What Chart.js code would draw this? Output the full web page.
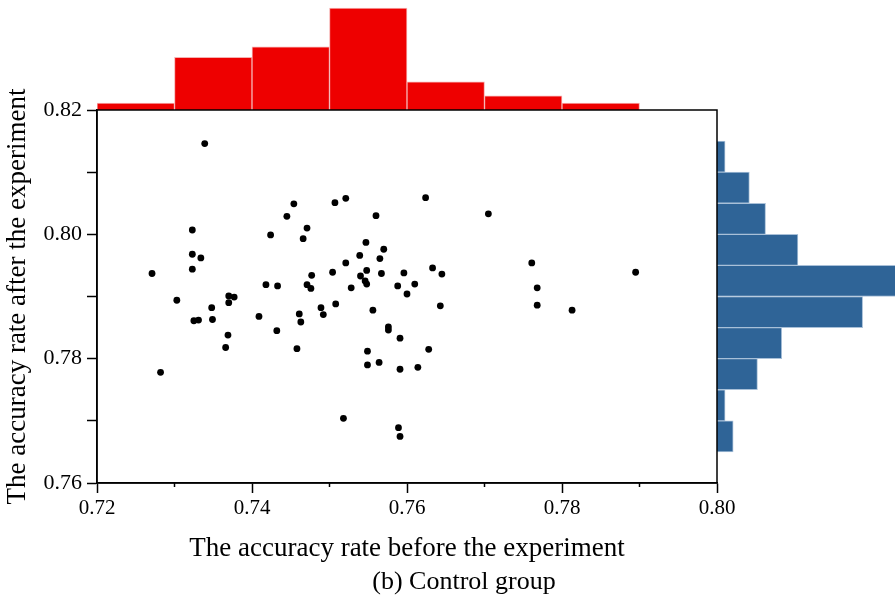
<!DOCTYPE html>
<html lang="en">
<head>
<meta charset="UTF-8">
<title>Control group</title>
<script src="https://cdn.jsdelivr.net/npm/chart.js@4.4.0/dist/chart.umd.min.js"></script>
<style>
  body { margin: 0; background: #fff; }
  #wrap { position: relative; width: 895px; height: 610px; overflow: hidden; }
  #wrap canvas { position: absolute; }
  #caption {
    position: absolute; left: 464px; top: 568px; transform: translateX(-50%);
    font: 26px/1 'Liberation Serif', 'Times New Roman', serif; color: #000; white-space: nowrap;
  }
</style>
</head>
<body>
<div id="wrap">
  <canvas id="topHist" width="895" height="110" style="left:0;top:0"></canvas>
  <canvas id="sideHist" width="178" height="373" style="left:717px;top:110px"></canvas>
  <canvas id="scatter" width="895" height="610" style="left:0;top:0"></canvas>
  <div id="caption">(b) Control group</div>
</div>
<script>
// accuracy rate of each student, before and after (control group)
const before = [0.7339,0.7271,0.7323,0.7323,0.7334,0.7323,0.7303,0.7370,0.7377,0.7424,
  0.7445,0.7454,0.7471,0.7466,0.7418,0.7433,0.7471,0.7477,0.7476,0.7507,
  0.7521,0.7560,0.7504,0.7521,0.7528,0.7539,0.7547,0.7540,0.7548,0.7546,
  0.7548,0.7565,0.7570,0.7567,0.7588,0.7596,0.7600,0.7624,0.7705,0.7610,
  0.7633,0.7645,0.7761,0.7768,0.7895,0.7282,0.7325,0.7331,0.7348,0.7349,
  0.7370,0.7369,0.7366,0.7409,0.7432,0.7458,0.7461,0.7463,0.7489,0.7492,
  0.7508,0.7518,0.7556,0.7576,0.7576,0.7549,0.7549,0.7564,0.7591,0.7591,
  0.7589,0.7591,0.7643,0.7768,0.7813,0.7628,0.7614];
const after = [0.8146,0.7937,0.8007,0.7968,0.7962,0.7944,0.7894,0.7901,0.7899,0.7999,
  0.8029,0.8049,0.8010,0.7993,0.7919,0.7917,0.7919,0.7934,0.7913,0.8051,
  0.8058,0.8030,0.7939,0.7954,0.7914,0.7966,0.7987,0.7933,0.7942,0.7925,
  0.7920,0.7961,0.7976,0.7937,0.7917,0.7938,0.7904,0.8059,0.8033,0.7920,
  0.7946,0.7936,0.7954,0.7914,0.7939,0.7778,0.7861,0.7862,0.7882,0.7863,
  0.7890,0.7838,0.7818,0.7868,0.7845,0.7816,0.7872,0.7859,0.7882,0.7871,
  0.7888,0.7704,0.7878,0.7851,0.7846,0.7812,0.7790,0.7794,0.7833,0.7783,
  0.7689,0.7675,0.7885,0.7886,0.7878,0.7815,0.7786];

// top histogram: bins of "before", 0.72 .. 0.80 step 0.01
const beforeBins = ['0.72','0.73','0.74','0.75','0.76','0.77','0.78','0.79'];
const beforeCounts = [2, 15, 18, 29, 8, 4, 2, 0];

// side histogram: bins of "after", top (0.815-0.82) to bottom (0.76-0.765)
const afterBins = ['0.815','0.810','0.805','0.800','0.795','0.790','0.785','0.780','0.775','0.770','0.765','0.760'];
const afterCounts = [0, 1, 4, 6, 10, 23, 18, 8, 5, 1, 2, 0];

const serif = "'Liberation Serif', 'Times New Roman', serif";
const isEven = v => Math.round(v * 100) % 2 === 0;

// box round the plot + short minor ticks on x
const frame = {
  id: 'frame',
  afterDraw(chart) {
    const {ctx, chartArea: a, scales: {x}} = chart;
    ctx.save();
    ctx.strokeStyle = '#000';
    ctx.lineWidth = 1.5;
    ctx.strokeRect(a.left, a.top, a.right - a.left, a.bottom - a.top);
    x.ticks.forEach(t => {
      if (isEven(t.value)) return;
      const px = x.getPixelForValue(t.value);
      ctx.beginPath();
      ctx.moveTo(px, a.bottom);
      ctx.lineTo(px, a.bottom + 4);
      ctx.stroke();
    });
    ctx.restore();
  }
};

new Chart(document.getElementById('topHist'), {
  type: 'bar',
  data: {
    labels: beforeBins,
    datasets: [{
      data: beforeCounts,
      backgroundColor: '#ee0000',
      borderColor: '#f6b0b0',
      borderWidth: 1,
      categoryPercentage: 1,
      barPercentage: 1
    }]
  },
  options: {
    responsive: false, animation: false, devicePixelRatio: 1,
    layout: {padding: {left: 97, right: 178, top: 0, bottom: 0}},
    plugins: {legend: {display: false}, tooltip: {enabled: false}},
    scales: {
      x: {display: false},
      y: {display: false, min: 0, max: 31.3}
    }
  }
});

new Chart(document.getElementById('sideHist'), {
  type: 'bar',
  data: {
    labels: afterBins,
    datasets: [{
      data: afterCounts,
      backgroundColor: '#2f6497',
      borderColor: '#a9c0d8',
      borderWidth: 1,
      categoryPercentage: 1,
      barPercentage: 1
    }]
  },
  options: {
    indexAxis: 'y',
    responsive: false, animation: false, devicePixelRatio: 1,
    plugins: {legend: {display: false}, tooltip: {enabled: false}},
    scales: {
      x: {display: false, min: 0, max: 22},
      y: {display: false}
    }
  }
});

new Chart(document.getElementById('scatter'), {
  type: 'scatter',
  data: {
    datasets: [{
      data: before.map((b, i) => ({x: b, y: after[i]})),
      backgroundColor: '#000',
      borderColor: '#000',
      borderWidth: 0,
      pointRadius: 3.4
    }]
  },
  options: {
    responsive: false, animation: false, devicePixelRatio: 1,
    layout: {padding: {left: 0, top: 110, right: 178, bottom: 0}},
    plugins: {legend: {display: false}, tooltip: {enabled: false}},
    scales: {
      x: {
        type: 'linear', min: 0.72, max: 0.80,
        afterFit: s => { s.height = 127; },
        ticks: {
          stepSize: 0.01, autoSkip: false, maxRotation: 0, padding: 3,
          color: '#000', font: {family: serif, size: 21},
          callback: v => isEven(v) ? v.toFixed(2) : ''
        },
        grid: {
          drawOnChartArea: false, tickLength: 10, tickWidth: 1.5,
          tickColor: c => isEven(c.tick.value) ? '#000' : 'rgba(0,0,0,0)'
        },
        border: {color: '#000', width: 1.5},
        title: {
          display: true, text: 'The accuracy rate before the experiment',
          color: '#000', font: {family: serif, size: 27},
          padding: {top: 0, bottom: 45}
        }
      },
      y: {
        type: 'linear', min: 0.76, max: 0.82,
        afterFit: s => { s.width = 97; },
        ticks: {
          stepSize: 0.01, autoSkip: false, padding: 5,
          color: '#000', font: {family: serif, size: 22},
          callback: v => isEven(v) ? v.toFixed(2) : ''
        },
        grid: {drawOnChartArea: false, tickLength: 10, tickWidth: 1.5, tickColor: '#000'},
        border: {color: '#000', width: 1.5},
        title: {
          display: true, text: 'The accuracy rate after the experiment',
          color: '#000', font: {family: serif, size: 27},
          padding: {top: 2, bottom: 0}
        }
      }
    }
  },
  plugins: [frame]
});
</script>
</body>
</html>
